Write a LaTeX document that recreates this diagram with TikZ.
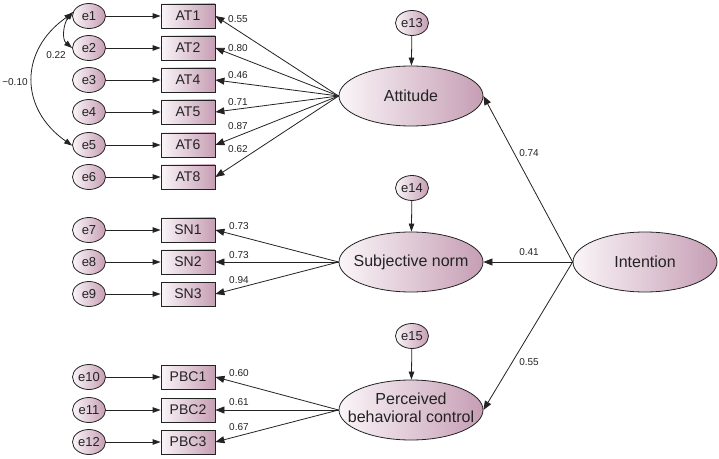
\documentclass[tikz,border=0pt]{standalone}
\usepackage{fontspec}
\setmainfont{Liberation Sans}
\usetikzlibrary{arrows.meta,shapes.geometric}
\definecolor{mauve}{RGB}{198,158,180}
\definecolor{pale}{RGB}{250,245,248}
\definecolor{ink}{RGB}{35,35,35}
\tikzset{
  errnode/.style={ellipse, draw=ink, line width=0.8pt, left color=pale, right color=mauve,
    minimum width=33pt, minimum height=25pt, inner sep=0pt, text=ink, font=\fontsize{13}{15}\selectfont},
  obsnode/.style={rectangle, draw=ink, line width=0.8pt, left color=pale, right color=mauve,
    minimum width=54pt, minimum height=24pt, inner sep=0pt, text=ink, font=\fontsize{14}{16}\selectfont},
  latnode/.style={ellipse, draw=ink, line width=0.8pt, left color=pale, right color=mauve,
    minimum width=144pt, minimum height=60pt, inner sep=0pt, text=ink, font=\fontsize{16}{18}\selectfont},
  arr/.style={draw=ink, line width=0.8pt, -{Triangle[length=9pt,width=7pt]}},
  sarr/.style={draw=ink, line width=0.8pt, -{Triangle[length=8pt,width=5.5pt]}},
  covarr/.style={draw=ink, line width=0.8pt, {Triangle[length=8pt,width=5.5pt]}-{Triangle[length=8pt,width=5.5pt]}},
  coef/.style={font=\fontsize{10}{12}\selectfont, text=ink, inner sep=0pt}
}
\begin{document}
\begin{tikzpicture}[x=1pt,y=1pt]
\useasboundingbox (0,0) rectangle (719,458);
\fill[white] (0,0) rectangle (719,458);

% error terms and indicators
\foreach \i/\lab/\y in {1/AT1/442, 2/AT2/410, 3/AT4/378, 4/AT5/346, 5/AT6/313, 6/AT8/281,
                        7/SN1/228, 8/SN2/196, 9/SN3/164, 10/PBC1/81, 11/PBC2/48, 12/PBC3/16} {
  \node[errnode] (e\i) at (89,\y) {\makebox[0pt]{e\i}};
  \node[obsnode] (o\i) at (188,\y) {\makebox[0pt]{\lab}};
  \draw[sarr] (e\i) -- (o\i);
}

% latent variables
\node[latnode] (att) at (411,362) {\makebox[0pt]{Attitude}};
\node[latnode] (sn)  at (411,196) {\makebox[0pt]{Subjective norm}};
\node[latnode] (pbc) at (411,48)  {\makebox[0pt]{\begin{tabular}{@{}c@{}}Perceived\\behavioral control\end{tabular}}};
\node[latnode] (int) at (645,196) {\makebox[0pt]{Intention}};

% disturbances
\node[errnode] (e13) at (412,435) {\makebox[0pt]{e13}};
\node[errnode] (e14) at (412,270) {\makebox[0pt]{e14}};
\node[errnode] (e15) at (412,122) {\makebox[0pt]{e15}};
\draw[sarr] (e13) -- (att);
\draw[sarr] (e14) -- (sn);
\draw[sarr] (e15) -- (pbc);

% loadings
\foreach \i in {1,...,6} { \draw[arr] (att.west) -- (o\i.east); }
\foreach \i in {7,8,9} { \draw[arr] (sn.west) -- (o\i.east); }
\foreach \i in {10,11,12} { \draw[arr] (pbc.west) -- (o\i.east); }

% structural paths
\draw[arr] (int.west) -- (att.east);
\draw[arr] (int.west) -- (sn.east);
\draw[arr] (int.west) -- (pbc.east);

% covariances
\draw[covarr] (e1.165) to[out=230, in=140] (e2.180);
\draw[covarr] (e1.170) to[out=215, in=145, looseness=1.25] (e5.182);

% coefficient labels
\node[coef, anchor=west] (c1) at (228,439) {0.55};
\node[coef, anchor=west] (c2) at (228,410) {0.80};
\node[coef, anchor=west] (c3) at (228,383) {0.46};
\node[coef, anchor=west] (c4) at (228,356) {0.71};
\node[coef, anchor=west] (c5) at (228,332) {0.87};
\node[coef, anchor=west] (c6) at (228,309) {0.62};
\node[coef, anchor=west] (c7) at (229,232) {0.73};
\node[coef, anchor=west] (c8) at (229,203) {0.73};
\node[coef, anchor=west] (c9) at (229,178) {0.94};
\node[coef, anchor=west] (c10) at (229,85) {0.60};
\node[coef, anchor=west] (c11) at (229,56) {0.61};
\node[coef, anchor=west] (c12) at (229,31) {0.67};
\node[coef] (c13) at (529,305) {0.74};
\node[coef] (c14) at (529,206) {0.41};
\node[coef] (c15) at (529,96) {0.55};
\node[coef] (c16) at (56,403) {0.22};
\node[coef] (c17) at (15,376) {\char"2212 0.10};
\end{tikzpicture}
\end{document}
